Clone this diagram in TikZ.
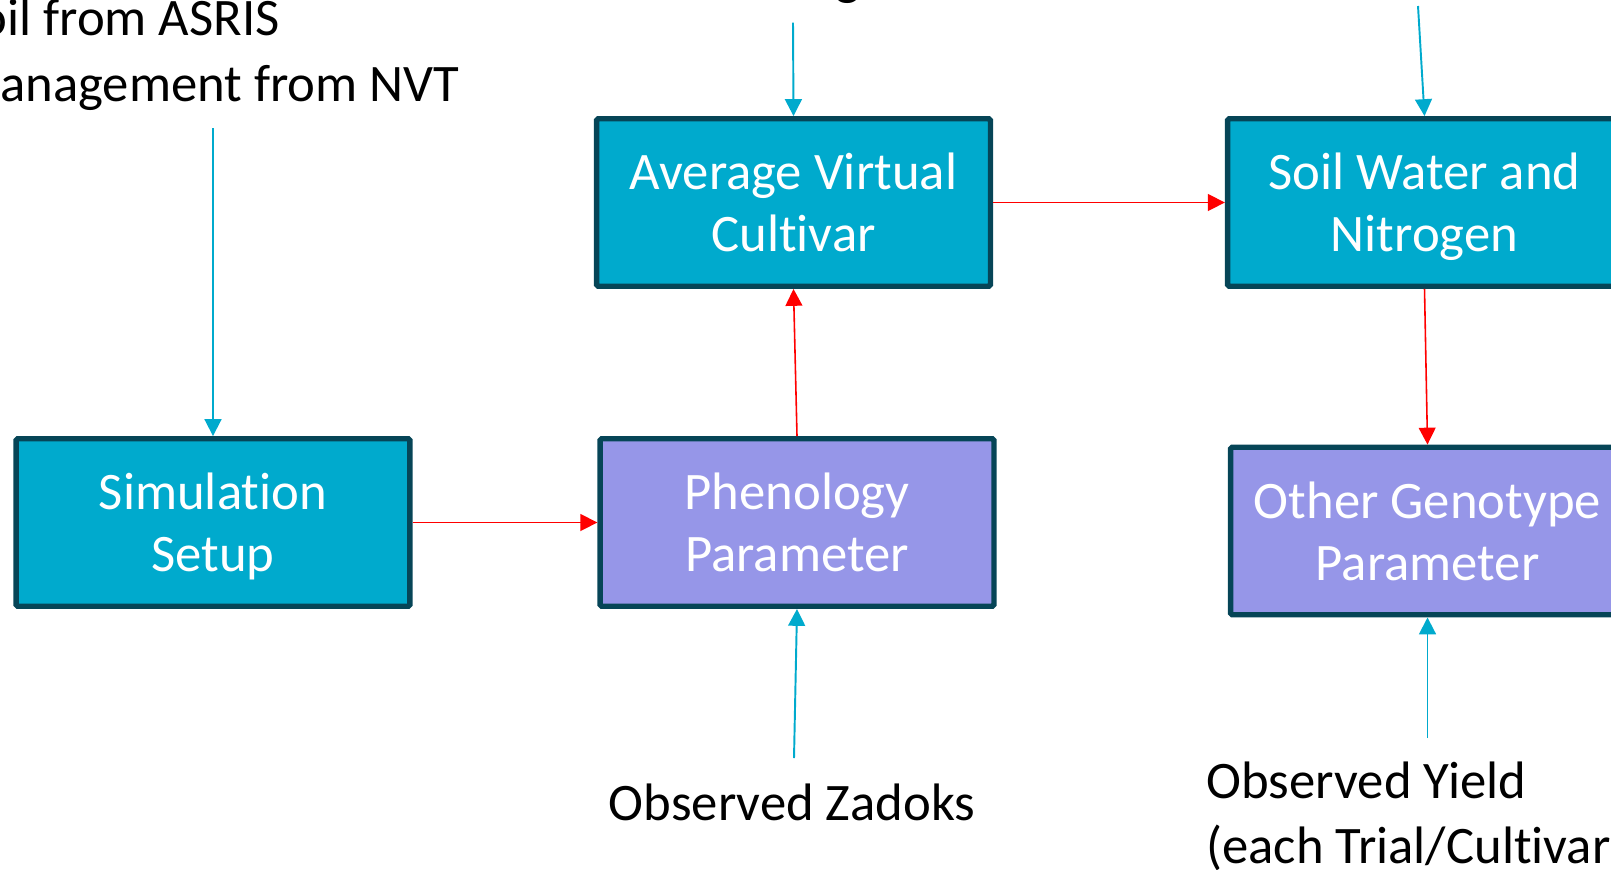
\documentclass[tikz,border=0pt]{standalone}
\usepackage{fontspec}
\setmainfont[Ligatures=NoCommon]{Carlito}
\usetikzlibrary{arrows.meta,positioning}
\definecolor{boxteal}{RGB}{0,170,205}
\definecolor{boxpurple}{RGB}{150,150,232}
\definecolor{boxedge}{RGB}{6,69,87}
\definecolor{feedcyan}{RGB}{0,170,205}
\begin{document}
\begin{tikzpicture}[x=0.02cm, y=-0.02cm, >={Triangle[length=9.6pt,width=9.6pt]}]
\tikzstyle{block} = [rectangle, draw=boxedge, line width=3.1pt, rounded corners=1pt,
text=white, font=\fontsize{30}{35.2}\selectfont, align=center, text depth=0pt,
minimum width=7.88cm, minimum height=3.35cm, inner sep=0pt]
\tikzstyle{feed} = [draw=feedcyan, line width=1.1pt, ->]
\tikzstyle{flow} = [draw=red, line width=0.9pt, ->]
\tikzstyle{obs} = [font=\fontsize{30}{37}\selectfont, align=left, inner sep=0pt]
\useasboundingbox (0,0) rectangle (1611,869);
\clip (0,0) rectangle (1611,869);
\node[block,fill=boxteal] at (213,522.5) (B1){Simulation\\Setup};
\node[block,fill=boxpurple] at (797,522.5) (B2){Phenology\\Parameter};
\node[block,fill=boxteal] at (793.5,202.5) (B3){Average Virtual\\Cultivar};
\node[block,fill=boxteal] at (1424.5,202.5) (B4){Soil Water and\\Nitrogen};
\node[block,fill=boxpurple] at (1427.5,531) (B5){Other Genotype\\Parameter};
% base anchor = baseline of the last line
\node[obs,anchor=base west] at (-45,101) (T1){Soil from ASRIS\\Management from NVT};
\node[obs,anchor=base west] at (835,-6) (T2){g};
\node[obs,anchor=base] at (792,820) (T3){Observed Zadoks};
\node[obs,anchor=base west] at (1206,863) (T4){Observed Yield\\(each Trial/Cultivar)};
\coordinate (C1) at (213,128);
\coordinate (C2) at (793,22.6);
\coordinate (C3) at (1418,6);
\coordinate (C4) at (794,758);
\coordinate (C5) at (1427.5,738);
%% arrows
\draw[flow] (B1) -- (B2);
\draw[flow] (B2.north) -- (B3.south);
\draw[flow] (B3) -- (B4);
\draw[flow] (B4.south) -- (B5.north);
\draw[feed] (C1) -- (B1.north);
\draw[feed] (C2) -- (B3.north);
\draw[feed] (C3) -- (B4.north);
\draw[feed] (C4) -- (B2.south);
\draw[feed] (C5) -- (B5.south);
\end{tikzpicture}
\end{document}
